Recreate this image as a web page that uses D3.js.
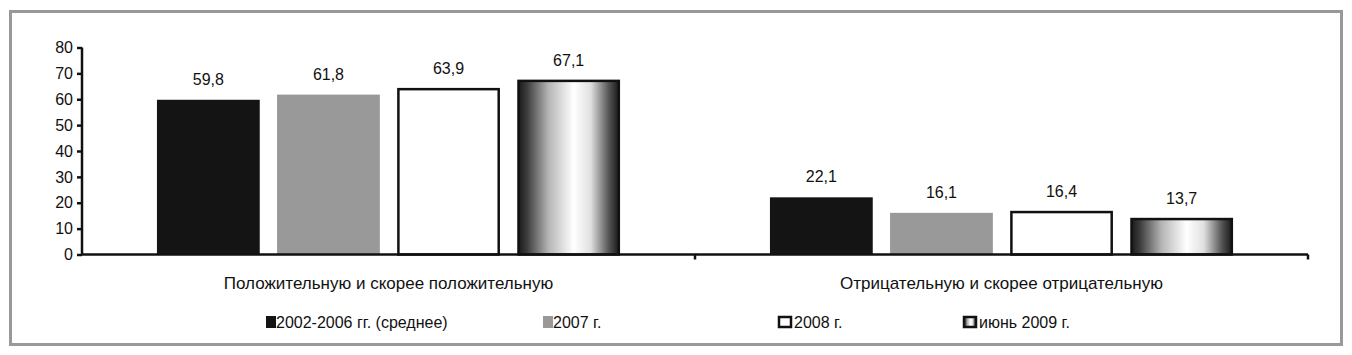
<!DOCTYPE html>
<html><head><meta charset="utf-8">
<script src="https://cdn.jsdelivr.net/npm/d3@7/dist/d3.min.js"></script>
<style>
html,body{margin:0;padding:0;background:#fff;}
svg text{font-family:"Liberation Sans",Arial,sans-serif;fill:#111;}
</style></head><body>
<svg id="c" width="1352" height="355"></svg>
<script>
const categories = ["Положительную и скорее положительную", "Отрицательную и скорее отрицательную"];
const seriesNames = ["2002-2006 гг. (среднее)", "2007 г.", "2008 г.", "июнь 2009 г."];
const s2002_2006 = [59.8, 22.1];
const s2007 = [61.8, 16.1];
const s2008 = [63.9, 16.4];
const sJune2009 = [67.1, 13.7];
const valueLabels = [["59,8","22,1"],["61,8","16,1"],["63,9","16,4"],["67,1","13,7"]];
const yTicks = [0,10,20,30,40,50,60,70,80];

const seriesValues = [s2002_2006, s2007, s2008, sJune2009];
const svg = d3.select("#c");
const defs = svg.append("defs");
const grad = defs.append("linearGradient").attr("id","cyl").attr("x1","0%").attr("x2","100%").attr("y1","0%").attr("y2","0%");
[[0,"#1a1a1a"],[0.08,"#3a3a3a"],[0.3,"#b5b5b5"],[0.55,"#ffffff"],[0.72,"#e0e0e0"],[0.9,"#555"],[1,"#1a1a1a"]]
 .forEach(([o,c])=>grad.append("stop").attr("offset",o).attr("stop-color",c));

// frame
svg.append("rect").attr("x",10.5).attr("y",11.5).attr("width",1331).attr("height",333)
  .attr("fill","none").attr("stroke","#999").attr("stroke-width",3);

const x0 = d3.scaleBand().domain(categories).range([82,1308]).paddingInner(0).paddingOuter(0);
const x1 = d3.scaleBand().domain(seriesNames).range([0,x0.bandwidth()]).paddingInner(0.144).paddingOuter(0.624);
const y = d3.scaleLinear().domain([0,80]).range([254.5,47.5]);

const fills = ["#141414","#999999","#ffffff","url(#cyl)"];
const strokes = ["none","none","#111","#111"];

seriesNames.forEach((s,si)=>{
  const g = svg.append("g");
  g.selectAll("rect").data(categories).join("rect")
    .attr("x",c=>x0(c)+x1(s)+(strokes[si]==="none"?0:1.25))
    .attr("width",x1.bandwidth()-(strokes[si]==="none"?0:2.5))
    .attr("y",(c,i)=>y(seriesValues[si][i]))
    .attr("height",(c,i)=>y(0)-y(seriesValues[si][i]))
    .attr("fill",fills[si]).attr("stroke",strokes[si]).attr("stroke-width",2.5);
  g.selectAll("text").data(categories).join("text")
    .attr("x",c=>x0(c)+x1(s)+x1.bandwidth()/2)
    .attr("y",(c,i)=>y(seriesValues[si][i])-15)
    .attr("text-anchor","middle").attr("font-size",16)
    .text((c,i)=>valueLabels[si][i]);
});

// y axis
const yAxis = d3.axisLeft(y).tickValues(yTicks).tickSize(5).tickPadding(4).tickFormat(d3.format("d"));
const ya = svg.append("g").attr("transform","translate(82,0)").call(yAxis);
ya.select(".domain").attr("stroke","#111").attr("stroke-width",2.5).attr("d","M0,254.5V47.5");
ya.selectAll(".tick line").attr("stroke","#111").attr("stroke-width",2.5);
ya.selectAll(".tick text").attr("font-size",16).attr("font-family","Liberation Sans, Arial, sans-serif").attr("fill","#111");

// x axis
const xa = svg.append("g").attr("transform",`translate(0,${y(0)})`)
  .call(d3.axisBottom(x0).tickSize(0).tickPadding(22));
xa.select(".domain").attr("stroke","#111").attr("stroke-width",2.5).attr("d","M82,0H1308");
xa.selectAll(".tick text").attr("font-size",17).attr("font-family","Liberation Sans, Arial, sans-serif").attr("fill","#111").attr("dy","0.71em");
// group separator ticks
const sepX = [x0.range()[0] + x0.step(), x0.range()[1]];
xa.selectAll(".sep").data(sepX).join("line").attr("class","sep")
  .attr("x1",d=>d).attr("x2",d=>d).attr("y1",0).attr("y2",5).attr("stroke","#111").attr("stroke-width",2.5);

// legend
const legendX = [266, 543, 778, 963];
const lg = svg.append("g").attr("transform","translate(0,316)");
seriesNames.forEach((s,i)=>{
  const it = lg.append("g").attr("transform",`translate(${legendX[i]},0)`);
  if (strokes[i]==="none") it.append("rect").attr("x",0).attr("y",0).attr("width",10).attr("height",12).attr("fill",fills[i]);
  else it.append("rect").attr("x",1).attr("y",1).attr("width",12).attr("height",10).attr("fill",fills[i]).attr("stroke","#111").attr("stroke-width",2.5);
  it.append("text").attr("x",strokes[i]==="none"?10:16).attr("y",12).attr("font-size",16).text(s);
});
</script></body></html>
